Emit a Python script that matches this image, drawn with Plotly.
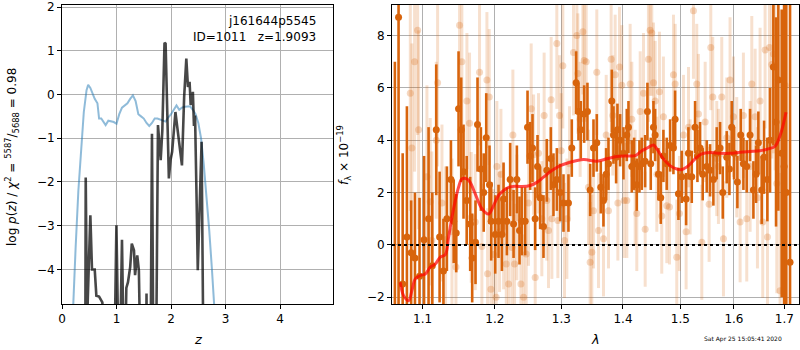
import plotly.graph_objects as go

# ---------------- left panel data ----------------
z_chi = [0.15, 0.20, 0.25, 0.30, 0.35, 0.40, 0.45, 0.48, 0.52, 0.55, 0.60, 0.65, 0.68, 0.72, 0.75, 0.78,
         0.80, 0.85, 0.90, 0.95, 1.00, 1.05, 1.10, 1.15, 1.20, 1.25, 1.30, 1.35, 1.40, 1.45, 1.50,
         1.55, 1.60, 1.65, 1.70, 1.75, 1.80, 1.85, 1.90, 1.95, 2.00, 2.05, 2.10, 2.15, 2.20, 2.25,
         2.30, 2.35, 2.40, 2.45, 2.50, 2.55, 2.60, 2.65, 2.70, 2.75, 2.80, 2.85]
chi_scaled = [-6.5, -4.8, -3.5, -2.2, -1.2, -0.4, 0.1, 0.22, 0.15, 0.05, -0.1, -0.2, -0.55, -0.55, -0.6, -0.65,
              -0.7, -0.6, -0.62, -0.63, -0.67, -0.45, -0.3, -0.25, -0.2, -0.1, -0.02, -0.15, -0.45, -0.5, -0.55,
              -0.65, -0.72, -0.65, -0.55, -0.55, -0.57, -0.6, -0.62, -0.52, -0.45, -0.35, -0.25, -0.35, -0.3, -0.28,
              -0.27, -0.27, -0.35, -0.45, -0.65, -1.0, -1.6, -2.3, -3.1, -4.0, -4.8, -6.0]

z_pz = [0.40, 0.425, 0.435, 0.46, 0.52, 0.55, 0.60, 0.63, 0.68, 0.74, 0.78, 0.95, 0.998, 1.05, 1.10, 1.145,
        1.18, 1.21, 1.25, 1.28, 1.32, 1.34, 1.38, 1.41, 1.45, 1.54, 1.55, 1.56, 1.62, 1.65, 1.68, 1.72,
        1.76, 1.81, 1.84, 1.88, 1.90, 1.94, 1.96, 1.99, 2.02, 2.08, 2.13, 2.20, 2.24, 2.28, 2.31, 2.34,
        2.36, 2.40, 2.42, 2.44, 2.47, 2.49, 2.56, 2.60, 2.70]
log_pz = [-7, -7, -1.9, -5.2, -2.76, -4.0, -4.0, -4.6, -4.62, -4.75, -6, -7, -2.99, -7, -3.32, -7,
          -4.42, -4.29, -3.95, -3.41, -3.56, -4.13, -3.68, -4.02, -7, -7, -4.55, -7, -7, -0.9, -7, -7,
          -0.7, -1.5, -0.82, 1.18, 1.16, -1.43, -1.92, -1.5, -1.31, -0.4, -0.97, -1.62, -0.06, 0.82, 0.17, 0.29,
          -0.24, 0.06, -0.72, -0.48, -2.5, -4.02, -1.08, -7, -9]

# ---------------- right panel data ----------------
lam_a = [1.0640, 1.0687, 1.0740, 1.0795, 1.0850, 1.0900, 1.0960, 1.1020, 1.1080, 1.1130, 1.1183, 1.1228,
         1.1280, 1.1327, 1.1382, 1.1420, 1.1455, 1.1487, 1.1524, 1.1556, 1.1600, 1.1649, 1.1677, 1.1724,
         1.1752, 1.1800, 1.1840, 1.1876, 1.1923, 1.1947, 1.2005, 1.2053, 1.2102, 1.2126, 1.2175, 1.2223,
         1.2273, 1.2322, 1.2361, 1.2396, 1.2446, 1.2481, 1.2521, 1.2556, 1.2596, 1.2632, 1.2672, 1.2723,
         1.2774, 1.2836, 1.2877, 1.2929, 1.2981, 1.3033, 1.3111, 1.3164, 1.3233, 1.3270, 1.3307, 1.3361,
         1.3414, 1.3458, 1.3512, 1.3566, 1.3631, 1.3675, 1.3719, 1.3758, 1.3813, 1.3841, 1.3885, 1.3907,
         1.3952, 1.4008, 1.4064, 1.4093, 1.4149, 1.4189, 1.4234, 1.4280, 1.4320, 1.4378, 1.4418, 1.4476,
         1.4523, 1.4552, 1.4610, 1.4651, 1.4698, 1.4757, 1.4817, 1.4876, 1.4906, 1.4966, 1.5026, 1.5105,
         1.5147, 1.5208, 1.5269, 1.5312, 1.5361, 1.5410, 1.5485, 1.5547, 1.5609, 1.5672, 1.5735, 1.5786,
         1.5862, 1.5913, 1.5957, 1.6002, 1.6066, 1.6131, 1.6183, 1.6248, 1.6313, 1.6379, 1.6431, 1.6477,
         1.6543, 1.6590, 1.6656, 1.6710, 1.6777, 1.6831, 1.6878, 1.6946, 1.6995, 1.7040, 1.7117]
flux_a = [-3.0, 8.7, -1.5, 0.3, -0.3, -0.5, -1.2, 0.2, 1.0, -0.8, 4.4, 0.3,
          -1.0, 1.0, 2.5, 0.9, 0.45, 5.2, 4.4, 2.8, 1.7, 0.8, -0.5, 0.1,
          4.6, 2.9, 2.0, 4.1, 2.3, 0.9, 0.4, 0.9, 0.4, 1.75, 0.9, 2.5,
          0.8, 2.5, 0.55, 0.9, 0.9, 4.5, 3.4, 3.7, 1.0, 3.0, 1.8, 0.7,
          2.85, 3.3, 2.3, 2.5, 2.0, 1.6, 1.6, 3.7, 6.2, 5.1, 4.4, 5.0,
          5.1, 2.1, 3.7, 3.9, 2.2, 1.7, 2.7, 3.1, 5.5, 4.2, 3.35, 4.4,
          4.0, 3.5, 4.2, 4.5, 3.0, 3.1, 2.3, 3.0, 3.1, 3.2, 5.1, 3.1,
          4.5, 4.2, 2.7, 1.8, 3.4, 3.1, 3.8, 3.7, 4.8, 1.95, 2.6, 1.75,
          3.5, 2.6, 4.5, 3.4, 3.7, 2.7, 3.0, 2.85, 2.5, 3.5, 3.7, 2.0,
          3.35, 2.9, 4.5, 3.5, 2.4, 4.2, 3.1, 3.0, 4.2, 2.1, 2.7, 3.9,
          2.1, 3.35, 2.5, 4.0, 6.8, 4.7, 6.3, 3.5, 3.0, 2.0, -0.66]
err_a = [10, 12, 5, 5, 2.0, 2.5, 3.0, 3.2, 3.5, 2.8, 2.5, 2.5,
         2.0, 2.0, 1.5, 1.6, 1.5, 2.2, 2.0, 1.8, 1.7, 1.8, 1.7, 1.6,
         1.8, 1.6, 1.5, 1.7, 1.5, 1.5, 1.5, 1.4, 1.4, 1.4, 1.3, 1.4,
         1.3, 1.3, 1.3, 1.3, 1.3, 1.4, 1.3, 1.3, 1.2, 1.2, 1.2, 1.2,
         1.2, 1.2, 1.2, 1.2, 1.1, 1.1, 1.1, 1.1, 1.2, 1.1, 1.1, 1.1,
         1.1, 1.0, 1.1, 1.1, 1.0, 1.0, 1.0, 1.0, 1.2, 1.1, 1.0, 1.0,
         1.0, 1.0, 1.0, 1.0, 1.0, 1.0, 1.0, 1.0, 1.0, 1.0, 1.1, 1.0,
         1.0, 1.0, 1.0, 1.0, 1.0, 1.0, 1.0, 1.0, 1.1, 1.0, 1.0, 1.0,
         1.0, 1.0, 1.0, 1.0, 1.0, 1.0, 1.0, 1.0, 1.0, 1.0, 1.0, 1.0,
         1.0, 1.0, 1.0, 1.0, 1.0, 1.0, 1.0, 1.0, 1.0, 1.1, 1.1, 1.2,
         1.3, 1.4, 1.6, 2.0, 3.0, 4.0, 5.0, 5.5, 8.0, 9.0, 10]

lam_b = [1.0839, 1.0860, 1.0895, 1.0935, 1.0948, 1.1058, 1.1102, 1.1124, 1.1183, 1.1201, 1.1260, 1.1309,
         1.1396, 1.1451, 1.1501, 1.1533, 1.1603, 1.1640, 1.1664, 1.1720, 1.1781, 1.1814, 1.1886, 1.1895,
         1.1919, 1.1943, 1.1981, 1.2019, 1.2029, 1.2068, 1.2088, 1.2127, 1.2166, 1.2200, 1.2249, 1.2263,
         1.2288, 1.2322, 1.2382, 1.2422, 1.2461, 1.2496, 1.2536, 1.2572, 1.2597, 1.2647, 1.2698, 1.2733,
         1.2774, 1.2800, 1.2841, 1.2852, 1.2929, 1.2945, 1.2971, 1.2997, 1.3023, 1.3049, 1.3086, 1.3128,
         1.3191, 1.3244, 1.3260, 1.3297, 1.3340, 1.3361, 1.3394, 1.3431, 1.3458, 1.3485, 1.3512, 1.3566,
         1.3594, 1.3676, 1.3720, 1.3758, 1.3802, 1.3830, 1.3869, 1.3914, 1.3942, 1.3981, 1.4020, 1.4065,
         1.4121, 1.4150, 1.4207, 1.4235, 1.4293, 1.4350, 1.4379, 1.4436, 1.4465, 1.4494, 1.4524, 1.4553,
         1.4582, 1.4628, 1.4669, 1.4698, 1.4758, 1.4806, 1.4877, 1.4907, 1.4936, 1.4984, 1.5057, 1.5105,
         1.5148, 1.5178, 1.5239, 1.5300, 1.5331, 1.5393, 1.5455, 1.5529, 1.5560, 1.5597, 1.5672, 1.5704,
         1.5767, 1.5799, 1.5862, 1.5925, 1.5990, 1.6054, 1.6119, 1.6183, 1.6248, 1.6314, 1.6347, 1.6413,
         1.6459, 1.6511, 1.6564, 1.6611, 1.6658, 1.6698, 1.6745, 1.6779, 1.6812, 1.6846, 1.6913, 1.7015]
flux_b = [5.8, 3.7, 7.0, 8.2, 4.4, 2.6, 1.65, 0.17, 4.0, 6.2, 1.6, 0.2,
          0.5, -0.85, 8.4, 7.0, 5.5, 4.65, 1.05, 0.87, 6.6, -0.06, 6.3, -1.1,
          5.65, -1.7, -0.37, -2.0, 3.0, 0.5, 2.7, 0.7, -0.73, -1.5, -0.1, 4.2,
          -0.73, 1.05, -1.5, -2.0, -0.35, 1.6, 5.2, 3.45, -1.25, 3.5, 1.0, 4.95,
          1.7, 0.55, 5.55, 1.0, 7.7, 0.93, 4.95, 3.6, 6.85, 0.17, 1.0, 3.1,
          7.35, 8.0, 6.55, 4.8, 8.15, 7.05, 7.0, 2.2, -0.66, -0.28, 1.3, 6.6,
          0.55, 0.23, 4.2, 1.3, 7.1, 4.95, 6.5, 1.6, 6.8, 6.1, 1.7, 1.7,
          6.15, 4.8, 2.2, 1.2, 5.1, 5.8, 0.6, 7.1, 8.2, 8.1, 6.2, 5.5,
          2.7, 5.85, 1.1, 4.9, 1.5, 1.45, 6.5, 6.15, -0.47, 1.2, 4.2, 0.5,
          4.5, 2.6, 8.95, 6.15, 5.0, 0.1, 4.7, 1.55, 7.55, 5.65, 3.3, 3.0,
          5.65, 0.23, 4.1, 6.3, 4.9, 3.35, 0.87, 4.95, 1.0, 3.0, 6.15, 4.9,
          1.8, 5.5, 0.87, 7.45, 0.3, 7.55, 6.9, 7.3, 6.85, 2.35, -1.75, 6.1]
err_b = [4.5, 4.0, 4.2, 4.0, 3.8, 3.5, 3.2, 3.4, 3.0, 3.2, 3.0, 2.8,
         2.8, 2.7, 3.0, 2.9, 2.6, 2.7, 2.5, 2.6, 2.8, 2.4, 2.6, 2.5,
         2.6, 2.4, 2.5, 2.4, 2.5, 2.3, 2.5, 2.4, 2.3, 2.4, 2.3, 2.5,
         2.3, 2.4, 2.3, 2.4, 2.3, 2.4, 2.5, 2.3, 2.4, 2.3, 2.2, 2.4,
         2.3, 2.2, 2.4, 2.3, 2.5, 2.2, 2.3, 2.2, 2.4, 2.2, 2.3, 2.2,
         2.4, 2.5, 2.3, 2.2, 2.4, 2.3, 2.3, 2.2, 2.3, 2.2, 2.2, 2.4,
         2.2, 2.2, 2.3, 2.2, 2.4, 2.3, 2.3, 2.2, 2.3, 2.3, 2.2, 2.2,
         2.3, 2.2, 2.2, 2.2, 2.3, 2.3, 2.2, 2.4, 2.5, 2.4, 2.3, 2.3,
         2.2, 2.3, 2.2, 2.3, 2.2, 2.2, 2.3, 2.3, 2.2, 2.2, 2.3, 2.2,
         2.3, 2.2, 2.6, 2.3, 2.3, 2.2, 2.3, 2.2, 2.4, 2.3, 2.2, 2.2,
         2.3, 2.2, 2.3, 2.4, 2.3, 2.3, 2.3, 2.4, 2.4, 2.5, 2.6, 2.6,
         2.7, 2.8, 2.9, 3.0, 3.2, 3.4, 3.6, 3.8, 4.0, 4.2, 4.5, 5.0]

lam_model = [1.0709, 1.0752, 1.0817, 1.0860, 1.0904, 1.0970, 1.1036, 1.1102, 1.1170, 1.1237, 1.1305,
             1.1350, 1.1396, 1.1442, 1.1487, 1.1533, 1.1603, 1.1649, 1.1720, 1.1814, 1.1910, 1.1981,
             1.2053, 1.2127, 1.2200, 1.2298, 1.2396, 1.2521, 1.2622, 1.2723, 1.2852, 1.2981, 1.3138,
             1.3351, 1.3566, 1.3731, 1.3896, 1.4065, 1.4207, 1.4321, 1.4436, 1.4524, 1.4582, 1.4698,
             1.4817, 1.4936, 1.5026, 1.5148, 1.5270, 1.5393, 1.5547, 1.5735, 1.5925, 1.6119, 1.6314,
             1.6511, 1.6678, 1.6812, 1.6913, 1.6980, 1.7034]
flux_model = [-1.43, -1.94, -2.13, -1.75, -1.3, -1.17, -1.11, -0.85, -0.73, -0.47, -0.37,
              0.29, 1.06, 1.69, 2.2, 2.52, 2.52, 2.39, 1.95, 1.38, 1.18, 1.5,
              1.89, 2.08, 2.2, 2.24, 2.23, 2.27, 2.39, 2.59, 2.84, 3.03, 3.16,
              3.26, 3.2, 3.29, 3.38, 3.4, 3.41, 3.6, 3.73, 3.82, 3.67, 3.29,
              3.03, 2.9, 2.88, 3.03, 3.29, 3.48, 3.53, 3.5, 3.5, 3.54, 3.57,
              3.6, 3.67, 3.77, 4.18, 4.62, 5.07]

x_ticks_right = [1.1, 1.2, 1.3, 1.4, 1.5, 1.6, 1.7]
x_ticks_left = [0, 1, 2, 3, 4]
y_ticks_left = [-4, -3, -2, -1, 0, 1, 2]
y_ticks_right = [-2, 0, 2, 4, 6, 8]

DARK = "#d8640c"
FONT = "DejaVu Sans"

fig = go.Figure()

# left panel
fig.add_trace(go.Scatter(x=z_chi, y=chi_scaled, mode="lines",
                         line=dict(color="rgba(31,119,180,0.5)", width=2),
                         xaxis="x", yaxis="y", showlegend=False))
fig.add_trace(go.Scatter(x=z_pz, y=log_pz, mode="lines",
                         line=dict(color="rgba(0,0,0,0.72)", width=2.6),
                         xaxis="x", yaxis="y", showlegend=False))

# right panel
fig.add_trace(go.Scatter(x=lam_b, y=flux_b, mode="markers",
                         marker=dict(color="rgba(216,100,12,0.25)", size=7),
                         error_y=dict(type="data", array=err_b, color="rgba(216,100,12,0.2)",
                                      thickness=3, width=0),
                         xaxis="x2", yaxis="y2", showlegend=False))
fig.add_trace(go.Scatter(x=lam_a, y=flux_a, mode="markers",
                         marker=dict(color=DARK, size=7),
                         error_y=dict(type="data", array=err_a, color=DARK, thickness=2.6, width=0),
                         xaxis="x2", yaxis="y2", showlegend=False))
fig.add_trace(go.Scatter(x=lam_model, y=flux_model, mode="lines", line_shape="spline",
                         line=dict(color="rgba(255,0,0,0.7)", width=3),
                         xaxis="x2", yaxis="y2", showlegend=False))

axis_common = dict(showline=True, mirror=True, linecolor="black", linewidth=1,
                   ticks="outside", ticklen=4, tickcolor="black", automargin=False,
                   showgrid=True, gridcolor="#b0b0b0", gridwidth=1, zeroline=False,
                   tickfont=dict(family=FONT, size=12, color="black"))

y_dom = [1 - 304 / 350, 1 - 5 / 350]
fig.update_layout(
    width=800, height=350,
    margin=dict(l=0, r=0, t=0, b=0),
    plot_bgcolor="white", paper_bgcolor="white",
    font=dict(family=FONT, size=12, color="black"),
    xaxis=dict(domain=[62 / 800, 333 / 800], range=[0, 4.97], tickvals=x_ticks_left, **axis_common),
    yaxis=dict(domain=y_dom, range=[-4.79, 2.046], tickvals=y_ticks_left, **axis_common),
    xaxis2=dict(domain=[392 / 800, 799 / 800], type="log", range=[0.02543, 0.23811],
                tickvals=x_ticks_right, ticktext=[str(v) for v in x_ticks_right],
                anchor="y2", **axis_common),
    yaxis2=dict(domain=y_dom, range=[-2.26, 9.17], tickvals=y_ticks_right,
                anchor="x2", **axis_common),
    shapes=[dict(type="line", xref="x2 domain", yref="y2", x0=0, x1=1, y0=0, y1=0,
                 line=dict(color="black", width=2, dash="dot"), layer="above")],
)

ann = []
ann.append(dict(text="j161644p5545", x=318 / 800, y=1 - 21 / 350, xref="paper", yref="paper",
                xanchor="right", yanchor="middle", showarrow=False, font=dict(size=12)))
ann.append(dict(text="ID=1011   z=1.9093", x=318 / 800, y=1 - 37 / 350, xref="paper", yref="paper",
                xanchor="right", yanchor="middle", showarrow=False, font=dict(size=12)))
ann.append(dict(text="<i>z</i>", x=198 / 800, y=1 - 339 / 350, xref="paper", yref="paper",
                xanchor="center", yanchor="middle", showarrow=False, font=dict(size=13)))
ann.append(dict(text="<i>λ</i>", x=595 / 800, y=1 - 339 / 350, xref="paper", yref="paper",
                xanchor="center", yanchor="middle", showarrow=False, font=dict(size=13)))
ann.append(dict(text="log <i>p</i>(<i>z</i>) / <i>χ</i><sup>2</sup> = <sup>5587</sup>/<sub>5688</sub> = 0.98",
                x=12 / 800, y=1 - 157 / 350, xref="paper", yref="paper", textangle=-90,
                xanchor="center", yanchor="middle", showarrow=False, font=dict(size=12)))
ann.append(dict(text="<i>f</i><sub>λ</sub> × 10<sup>−19</sup>",
                x=344 / 800, y=1 - 155 / 350, xref="paper", yref="paper", textangle=-90,
                xanchor="center", yanchor="middle", showarrow=False, font=dict(size=12)))
ann.append(dict(text="Sat Apr 25 15:05:41 2020", x=743 / 800, y=1 - 339 / 350, xref="paper", yref="paper",
                xanchor="center", yanchor="middle", showarrow=False, font=dict(size=6)))
fig.update_layout(annotations=ann)

fig.write_html("out.html", config={"displayModeBar": False},
               post_script="document.body.style.margin='0px';")
